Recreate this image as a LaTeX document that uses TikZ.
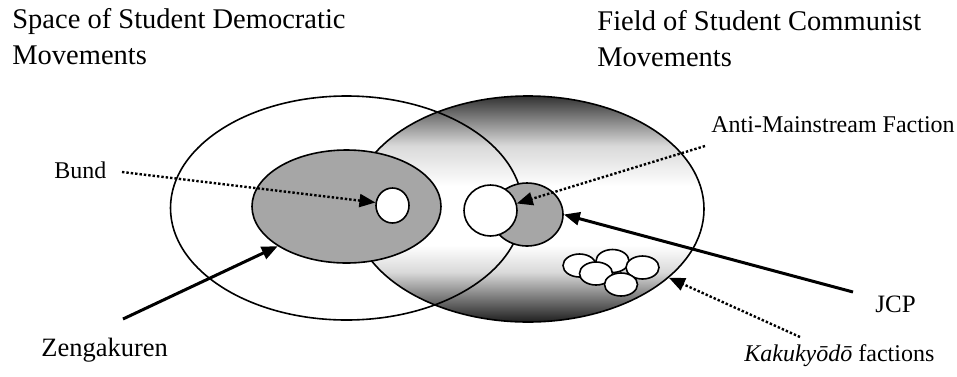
\documentclass[tikz,border=0pt]{standalone}
\usepackage{fontspec}
\setmainfont{Liberation Serif}
\usetikzlibrary{shapes.geometric,arrows.meta}
% dark at the rims, white in the middle
\pgfdeclareverticalshading{fieldshade}{100bp}{color(0bp)=(black!88); color(25bp)=(black!88); color(28bp)=(black!68); color(36bp)=(black!15); color(42bp)=(white); color(55bp)=(white); color(64bp)=(black!15); color(70bp)=(black!50); color(75bp)=(black!80); color(100bp)=(black!80)}
\tikzset{
  zone/.style={ellipse, draw, line width=0.8pt, inner sep=0pt},
  lbl/.style={anchor=base west, inner sep=0pt, font=\fontsize{12}{14}\selectfont},
  title/.style={anchor=north west, inner sep=0pt, align=left, font=\fontsize{14.25}{18}\selectfont},
  solidarrow/.style={line width=1.5pt, -{Triangle[length=8pt,width=6.5pt]}},
  dotarrow/.style={line width=1.2pt, densely dotted, -{Triangle[length=8pt,width=6.5pt]}}
}
\begin{document}
\begin{tikzpicture}[x=0.5pt,y=-0.5pt]
\useasboundingbox (0,0) rectangle (957,376);
% titles
\node[title] (spacetitle) at (12,8) {Space of Student Democratic\\Movements};
\node[title] (fieldtitle) at (597,10) {Field of Student Communist\\Movements};
% the two fields
\node[zone, shading=fieldshade, minimum width=176pt, minimum height=113pt] (field) at (528,209) {};
\node[zone, minimum width=176pt, minimum height=112pt] (space) at (346.5,208) {};
% groups inside
\node[zone, fill=black!35, minimum width=94.5pt, minimum height=56.5pt] (zeng) at (346.5,206.5) {};
\node[zone, fill=white, minimum width=16.5pt, minimum height=17.5pt] (bund) at (392.5,205.5) {};
\node[zone, fill=black!35, minimum width=36pt, minimum height=31.5pt] (anti) at (527,214.5) {};
\node[zone, fill=white, minimum width=26.5pt, minimum height=25.5pt] (jcpcore) at (490.5,210.5) {};
\foreach \x/\y [count=\i] in {579.5/265.5, 612.5/261, 642.5/267.5, 596/273.5, 621/284.5}{
\node[zone, fill=white, minimum width=16.5pt, minimum height=11.5pt] (kaku\i) at (\x,\y) {};
}
% labels
\node[lbl] (bundlabel) at (54,178) {Bund};
\node[lbl, font=\fontsize{13.25}{15}\selectfont] (zenglabel) at (41,356) {Zengakuren};
\node[lbl] (antilabel) at (711,132) {Anti-Mainstream Faction};
\node[lbl, font=\fontsize{12.5}{14}\selectfont] (jcplabel) at (875,312) {JCP};
\node[lbl] (kakulabel) at (744,361) {\textit{Kakuky\=od\=o} factions};
% arrows
\coordinate (bundtail) at (122,172);
\coordinate (zengtail) at (123,319);
\coordinate (antitail) at (705,146);
\coordinate (jcptail) at (853,292);
\coordinate (kakutail) at (800,337);
\draw[dotarrow] (bundtail) -- (bund.170);
\draw[solidarrow] (zengtail) -- (zeng.210);
\draw[dotarrow] (antitail) -- (jcpcore.15);
\draw[solidarrow] (jcptail) -- (anti.east);
\draw[dotarrow] (kakutail) -- (field.-26.4);
\end{tikzpicture}
\end{document}
